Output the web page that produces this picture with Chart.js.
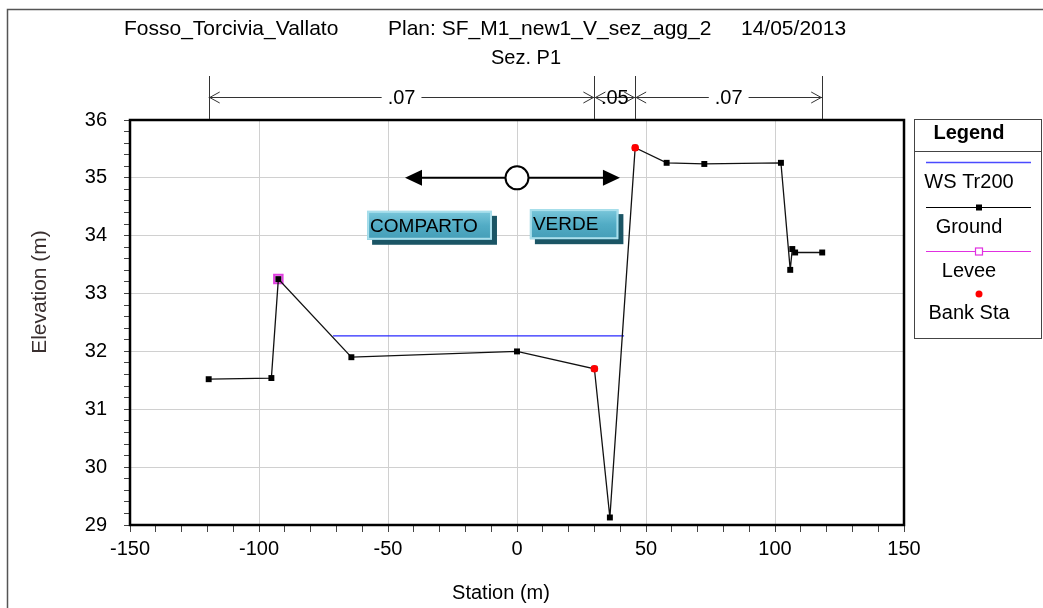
<!DOCTYPE html>
<html>
<head>
<meta charset="utf-8">
<title>Sez. P1</title>
<script src="https://cdn.jsdelivr.net/npm/chart.js@4.4.0/dist/chart.umd.min.js"></script>
<style>
  html, body { margin: 0; padding: 0; background: #fff; }
  #wrap { width: 1043px; height: 608px; position: relative; }
</style>
</head>
<body>
<div id="wrap"><canvas id="xsChart" width="1043" height="608"></canvas></div>
<script>
// ground profile, station (m) / elevation (m)
var groundStation = [-119.5, -95.2, -92.5, -64.2, 0.0, 30.0, 36.0, 45.8, 58.0, 72.6, 102.3, 105.9, 106.7, 107.8, 118.3];
var groundElev    = [31.52, 31.54, 33.25, 31.90, 32.00, 31.70, 29.13, 35.52, 35.26, 35.24, 35.26, 33.41, 33.77, 33.71, 33.71];

// water surface Tr200
var wsStation = [-71.3, 41.5];
var wsElev    = [32.27, 32.27];

// levee and bank stations
var leveeStation = [-92.5];
var leveeElev    = [33.25];
var bankStation  = [30.0, 45.8];
var bankElev     = [31.70, 35.52];

// manning's n regions
var nBreaks = [-119.5, 30.0, 45.8, 118.3];
var nValues = [".07", ".05", ".07"];

var xTicks = [-150, -100, -50, 0, 50, 100, 150];
var yTicks = [29, 30, 31, 32, 33, 34, 35, 36];

var FONT = "'Liberation Sans', Arial, sans-serif";

function pairs(xs, ys) {
  var out = [];
  for (var i = 0; i < xs.length; i++) out.push({ x: xs[i], y: ys[i] });
  return out;
}

function isMajor(v, list) {
  for (var i = 0; i < list.length; i++) {
    if (Math.abs(v - list[i]) < 1e-6) return true;
  }
  return false;
}

// flow arrow and area labels, in station / elevation units
var flowArrow = { from: -43.4, to: 39.9, elev: 35.0, mid: 0.0 };
var areaBoxes = [
  { text: "COMPARTO", x0: -58.1, x1: -9.7, top: 34.43, bottom: 33.93 },
  { text: "VERDE",    x0: 5.0,   x1: 39.3, top: 34.46, bottom: 33.94 }
];

function drawSquare(ctx, x, y, s, fill, stroke, lw) {
  if (fill) { ctx.fillStyle = fill; ctx.fillRect(x - s / 2, y - s / 2, s, s); }
  if (stroke) { ctx.strokeStyle = stroke; ctx.lineWidth = lw; ctx.strokeRect(x - s / 2, y - s / 2, s, s); }
}

var decorations = {
  id: 'decorations',
  beforeDraw: function(chart) {
    var ctx = chart.ctx;
    ctx.save();
    ctx.fillStyle = '#fff';
    ctx.fillRect(0, 0, chart.width, chart.height);
    // outer frame
    ctx.strokeStyle = '#555';
    ctx.lineWidth = 1.5;
    ctx.beginPath();
    ctx.moveTo(7.5, chart.height);
    ctx.lineTo(7.5, 9.5);
    ctx.lineTo(chart.width, 9.5);
    ctx.stroke();
    ctx.restore();
  },
  afterDatasetsDraw: function(chart) {
    var ctx = chart.ctx;
    var xs = chart.scales.x, ys = chart.scales.y;
    ctx.save();

    // flow arrow
    var ay = ys.getPixelForValue(flowArrow.elev);
    var ax0 = xs.getPixelForValue(flowArrow.from);
    var ax1 = xs.getPixelForValue(flowArrow.to);
    var am = xs.getPixelForValue(flowArrow.mid);
    ctx.strokeStyle = '#000';
    ctx.fillStyle = '#000';
    ctx.lineWidth = 2;
    ctx.beginPath();
    ctx.moveTo(ax0 + 14, ay); ctx.lineTo(ax1 - 14, ay);
    ctx.stroke();
    ctx.beginPath();
    ctx.moveTo(ax0, ay); ctx.lineTo(ax0 + 17, ay - 8); ctx.lineTo(ax0 + 17, ay + 8); ctx.closePath();
    ctx.fill();
    ctx.beginPath();
    ctx.moveTo(ax1, ay); ctx.lineTo(ax1 - 17, ay - 8); ctx.lineTo(ax1 - 17, ay + 8); ctx.closePath();
    ctx.fill();
    ctx.beginPath();
    ctx.arc(am, ay, 11.5, 0, Math.PI * 2);
    ctx.fillStyle = '#fff';
    ctx.fill();
    ctx.stroke();

    // area label boxes
    areaBoxes.forEach(function(b) {
      var x0 = xs.getPixelForValue(b.x0), x1 = xs.getPixelForValue(b.x1);
      var y0 = ys.getPixelForValue(b.top), y1 = ys.getPixelForValue(b.bottom);
      ctx.fillStyle = '#1b5565';
      ctx.fillRect(x0 + 5, y0 + 5, x1 - x0, y1 - y0);
      var g = ctx.createLinearGradient(0, y0, 0, y1);
      g.addColorStop(0, '#7cc8dc');
      g.addColorStop(0.5, '#52acc5');
      g.addColorStop(1, '#449db7');
      ctx.fillStyle = g;
      ctx.fillRect(x0, y0, x1 - x0, y1 - y0);
      ctx.strokeStyle = '#a9dfec';
      ctx.lineWidth = 2;
      ctx.strokeRect(x0 + 1, y0 + 1, x1 - x0 - 2, y1 - y0 - 2);
      ctx.fillStyle = '#000';
      ctx.font = '19px ' + FONT;
      ctx.textAlign = 'left';
      ctx.textBaseline = 'middle';
      ctx.fillText(b.text, x0 + 3, (y0 + y1) / 2 + 1);
    });
    ctx.restore();
  },
  afterDraw: function(chart) {
    var ctx = chart.ctx;
    var xs = chart.scales.x;
    var a = chart.chartArea;
    ctx.save();

    // plot frame
    ctx.strokeStyle = '#000';
    ctx.lineWidth = 2.5;
    ctx.strokeRect(a.left, a.top, a.right - a.left, a.bottom - a.top);

    // header
    ctx.fillStyle = '#000';
    ctx.font = '21px ' + FONT;
    ctx.textBaseline = 'middle';
    ctx.textAlign = 'left';
    ctx.fillText('Fosso_Torcivia_Vallato', 124, 29);
    ctx.fillText('Plan: SF_M1_new1_V_sez_agg_2', 388, 29);
    ctx.fillText('14/05/2013', 741, 29);
    ctx.font = '20px ' + FONT;
    ctx.textAlign = 'center';
    ctx.fillText('Sez. P1', 526, 58);

    // manning's n bar
    var ny = 97;
    ctx.strokeStyle = '#333';
    ctx.lineWidth = 1;
    nBreaks.forEach(function(s) {
      var px = Math.round(xs.getPixelForValue(s)) + 0.5;
      ctx.beginPath(); ctx.moveTo(px, 76); ctx.lineTo(px, a.top - 1); ctx.stroke();
    });
    for (var i = 0; i < nValues.length; i++) {
      var p0 = xs.getPixelForValue(nBreaks[i]), p1 = xs.getPixelForValue(nBreaks[i + 1]);
      ctx.beginPath();
      ctx.moveTo(p0, ny + 0.5); ctx.lineTo(p1, ny + 0.5);
      ctx.moveTo(p0 + 11, ny - 5); ctx.lineTo(p0 + 1, ny + 0.5); ctx.lineTo(p0 + 11, ny + 6);
      ctx.moveTo(p1 - 11, ny - 5); ctx.lineTo(p1 - 1, ny + 0.5); ctx.lineTo(p1 - 11, ny + 6);
      ctx.stroke();
      var mid = (p0 + p1) / 2;
      var w = ctx.measureText(nValues[i]).width;
      ctx.fillStyle = '#fff';
      if (p1 - p0 > w + 30) ctx.fillRect(mid - w / 2 - 6, ny - 10, w + 12, 20);
      ctx.fillStyle = '#000';
      ctx.textAlign = 'center';
      ctx.fillText(nValues[i], mid, ny + 1);
    }

    // axis titles
    ctx.fillStyle = '#000';
    ctx.font = '20px ' + FONT;
    ctx.textAlign = 'center';
    ctx.fillText('Station (m)', 501, 593);
    ctx.save();
    ctx.translate(40, 292);
    ctx.rotate(-Math.PI / 2);
    ctx.fillStyle = '#3a3030';
    ctx.font = '21px ' + FONT;
    ctx.fillText('Elevation (m)', 0, 0);
    ctx.restore();

    // legend
    var lx0 = 914.5, lx1 = 1041.5, lc = 969;
    ctx.strokeStyle = '#444';
    ctx.lineWidth = 1;
    ctx.strokeRect(lx0, 119.5, lx1 - lx0, 219);
    ctx.beginPath(); ctx.moveTo(lx0, 151.5); ctx.lineTo(lx1, 151.5); ctx.stroke();
    ctx.fillStyle = '#000';
    ctx.font = 'bold 20px ' + FONT;
    ctx.fillText('Legend', lc, 133);
    ctx.font = '20px ' + FONT;

    ctx.strokeStyle = '#4a4aff'; ctx.lineWidth = 1.5;
    ctx.beginPath(); ctx.moveTo(926, 162.5); ctx.lineTo(1031, 162.5); ctx.stroke();
    ctx.fillStyle = '#000';
    ctx.fillText('WS Tr200', lc, 182);

    ctx.strokeStyle = '#000'; ctx.lineWidth = 1;
    ctx.beginPath(); ctx.moveTo(926, 207.5); ctx.lineTo(1031, 207.5); ctx.stroke();
    drawSquare(ctx, 979, 207.5, 6, '#000');
    ctx.fillText('Ground', lc, 227);

    ctx.strokeStyle = '#e030e0';
    ctx.beginPath(); ctx.moveTo(926, 251.5); ctx.lineTo(1031, 251.5); ctx.stroke();
    drawSquare(ctx, 979, 251.5, 7, '#fff', '#e030e0', 1.2);
    ctx.fillStyle = '#000';
    ctx.fillText('Levee', lc, 271);

    ctx.fillStyle = '#ff0000';
    ctx.beginPath(); ctx.arc(979, 294, 3.5, 0, Math.PI * 2); ctx.fill();
    ctx.fillStyle = '#000';
    ctx.fillText('Bank Sta', lc, 313);

    ctx.restore();
  }
};

var data = {
  datasets: [
    {
      label: 'Bank Sta',
      data: pairs(bankStation, bankElev),
      showLine: false,
      pointStyle: 'circle',
      pointRadius: 3.8,
      pointBackgroundColor: '#ff0000',
      pointBorderColor: '#ff0000',
      pointBorderWidth: 0,
      order: 0
    },
    {
      label: 'Ground',
      data: pairs(groundStation, groundElev),
      showLine: true,
      borderColor: '#111',
      borderWidth: 1.3,
      pointStyle: 'rect',
      pointRadius: 4.2,
      pointBackgroundColor: '#000',
      pointBorderColor: '#000',
      pointBorderWidth: 0,
      tension: 0,
      order: 1
    },
    {
      label: 'Levee',
      data: pairs(leveeStation, leveeElev),
      showLine: false,
      pointStyle: 'rect',
      pointRadius: 6,
      pointBackgroundColor: 'rgba(255,120,255,0.35)',
      pointBorderColor: '#e040e0',
      pointBorderWidth: 2,
      order: 2
    },
    {
      label: 'WS Tr200',
      data: pairs(wsStation, wsElev),
      showLine: true,
      borderColor: '#2a2aff',
      borderWidth: 1.3,
      pointRadius: 0,
      order: 3
    }
  ]
};

var options = {
  responsive: false,
  animation: false,
  events: [],
  layout: { padding: { left: 0, top: 120, right: 139, bottom: 0 } },
  plugins: {
    legend: { display: false },
    title: { display: false },
    tooltip: { enabled: false }
  },
  scales: {
    x: {
      type: 'linear',
      min: xTicks[0],
      max: xTicks[xTicks.length - 1],
      afterFit: function(scale) { scale.height = 83; },
      border: { display: false },
      grid: {
        color: function(c) { return isMajor(c.tick.value, xTicks) ? '#d0d0d0' : 'rgba(0,0,0,0)'; },
        tickColor: '#444',
        tickLength: 7,
        lineWidth: 1
      },
      ticks: {
        stepSize: 10,
        autoSkip: false,
        maxRotation: 0,
        padding: 5,
        color: '#000',
        font: { family: FONT, size: 20 },
        callback: function(v) { return isMajor(v, xTicks) ? String(Math.round(v)) : ''; }
      }
    },
    y: {
      type: 'linear',
      min: yTicks[0],
      max: yTicks[yTicks.length - 1],
      afterFit: function(scale) { scale.width = 130; },
      border: { display: false },
      grid: {
        color: function(c) { return isMajor(c.tick.value, yTicks) ? '#d0d0d0' : 'rgba(0,0,0,0)'; },
        tickColor: '#444',
        tickLength: 6,
        lineWidth: 1
      },
      ticks: {
        stepSize: 0.2,
        autoSkip: false,
        padding: 17,
        color: '#000',
        font: { family: FONT, size: 20 },
        callback: function(v) { return isMajor(v, yTicks) ? String(Math.round(v)) : ''; }
      }
    }
  }
};

var chart = new Chart(document.getElementById('xsChart'), {
  type: 'scatter',
  data: data,
  options: options,
  plugins: [decorations]
});
</script>
</body>
</html>
